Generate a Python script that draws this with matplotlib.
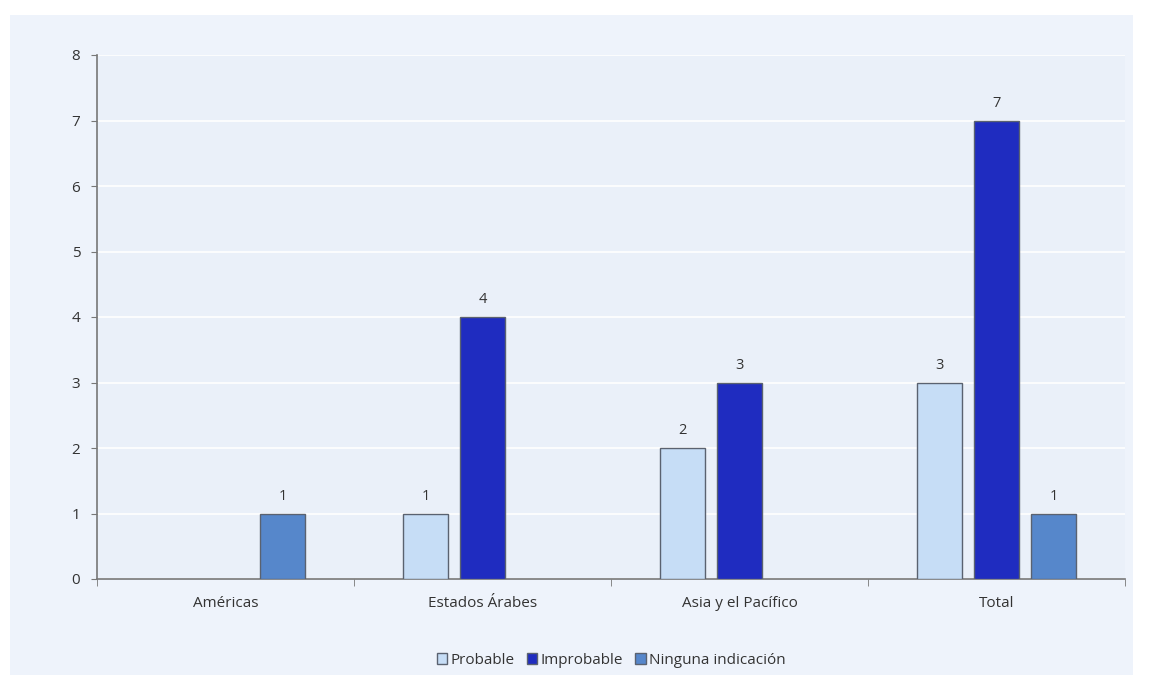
import matplotlib
matplotlib.use("Agg")
import matplotlib.pyplot as plt
from matplotlib.patches import Rectangle
import numpy as np

plt.rcParams['font.family'] = ['Open Sans', 'DejaVu Sans']

# data
regions = ["Américas", "Estados Árabes", "Asia y el Pacífico", "Total"]
probable = [0, 1, 2, 3]
improbable = [0, 4, 3, 7]
ninguna = [1, 0, 0, 1]
series_names = ["Probable", "Improbable", "Ninguna indicación"]
colors = ["#c6ddf6", "#1f2cc0", "#5687cb"]

fig = plt.figure(figsize=(11.53, 6.84), dpi=100)
fig.patch.set_facecolor("white")
# light panel behind everything
fig.add_artist(Rectangle((10 / 1153, 9 / 684), 1123 / 1153, 660 / 684,
                         transform=fig.transFigure, facecolor="#eef3fb",
                         edgecolor="none", zorder=-10))

ax = fig.add_axes([97 / 1153, 105 / 684, 1028 / 1153, 524 / 684])
ax.set_facecolor("#eaf0f9")

x = np.arange(len(regions))
w = 0.175
off = 0.222
for i, (vals, name, c) in enumerate(zip([probable, improbable, ninguna], series_names, colors)):
    xs = x + (i - 1) * off
    hs = [v if v > 0 else np.nan for v in vals]
    ax.bar(xs, hs, width=w, color=c, edgecolor="#5a6270", linewidth=1.0,
           label=name, zorder=3)
    for xx, v in zip(xs, vals):
        if v > 0:
            ax.text(xx, v + 0.15, str(v), ha="center", va="bottom",
                    fontsize=10.5, color="#333333")

ax.set_xlim(-0.5, len(regions) - 0.5)
ax.set_ylim(0, 8)
ax.set_yticks(range(0, 9))
ax.set_xticks(x)
ax.set_xticklabels(regions)
ax.set_xticks(np.arange(-0.5, len(regions)), minor=True)
ax.tick_params(axis="x", which="major", length=0, pad=12, labelsize=11, colors="#333333")
ax.tick_params(axis="x", which="minor", length=5, color="#777777", direction="out")
ax.tick_params(axis="y", length=4, color="#777777", labelsize=11, labelcolor="#333333", pad=8)

ax.yaxis.grid(True, color="white", linewidth=1.2, zorder=0)
ax.set_axisbelow(True)
for s in ["top", "right"]:
    ax.spines[s].set_visible(False)
for s in ["left", "bottom"]:
    ax.spines[s].set_color("#777777")
    ax.spines[s].set_linewidth(1.2)

ax.legend(loc="upper center", bbox_to_anchor=(0.5, -0.115), ncol=3, frameon=False,
          fontsize=11, handlelength=0.7, handleheight=0.7, handletextpad=0.2,
          columnspacing=0.8, labelcolor="#333333")

fig.savefig("out.png", dpi=100)
